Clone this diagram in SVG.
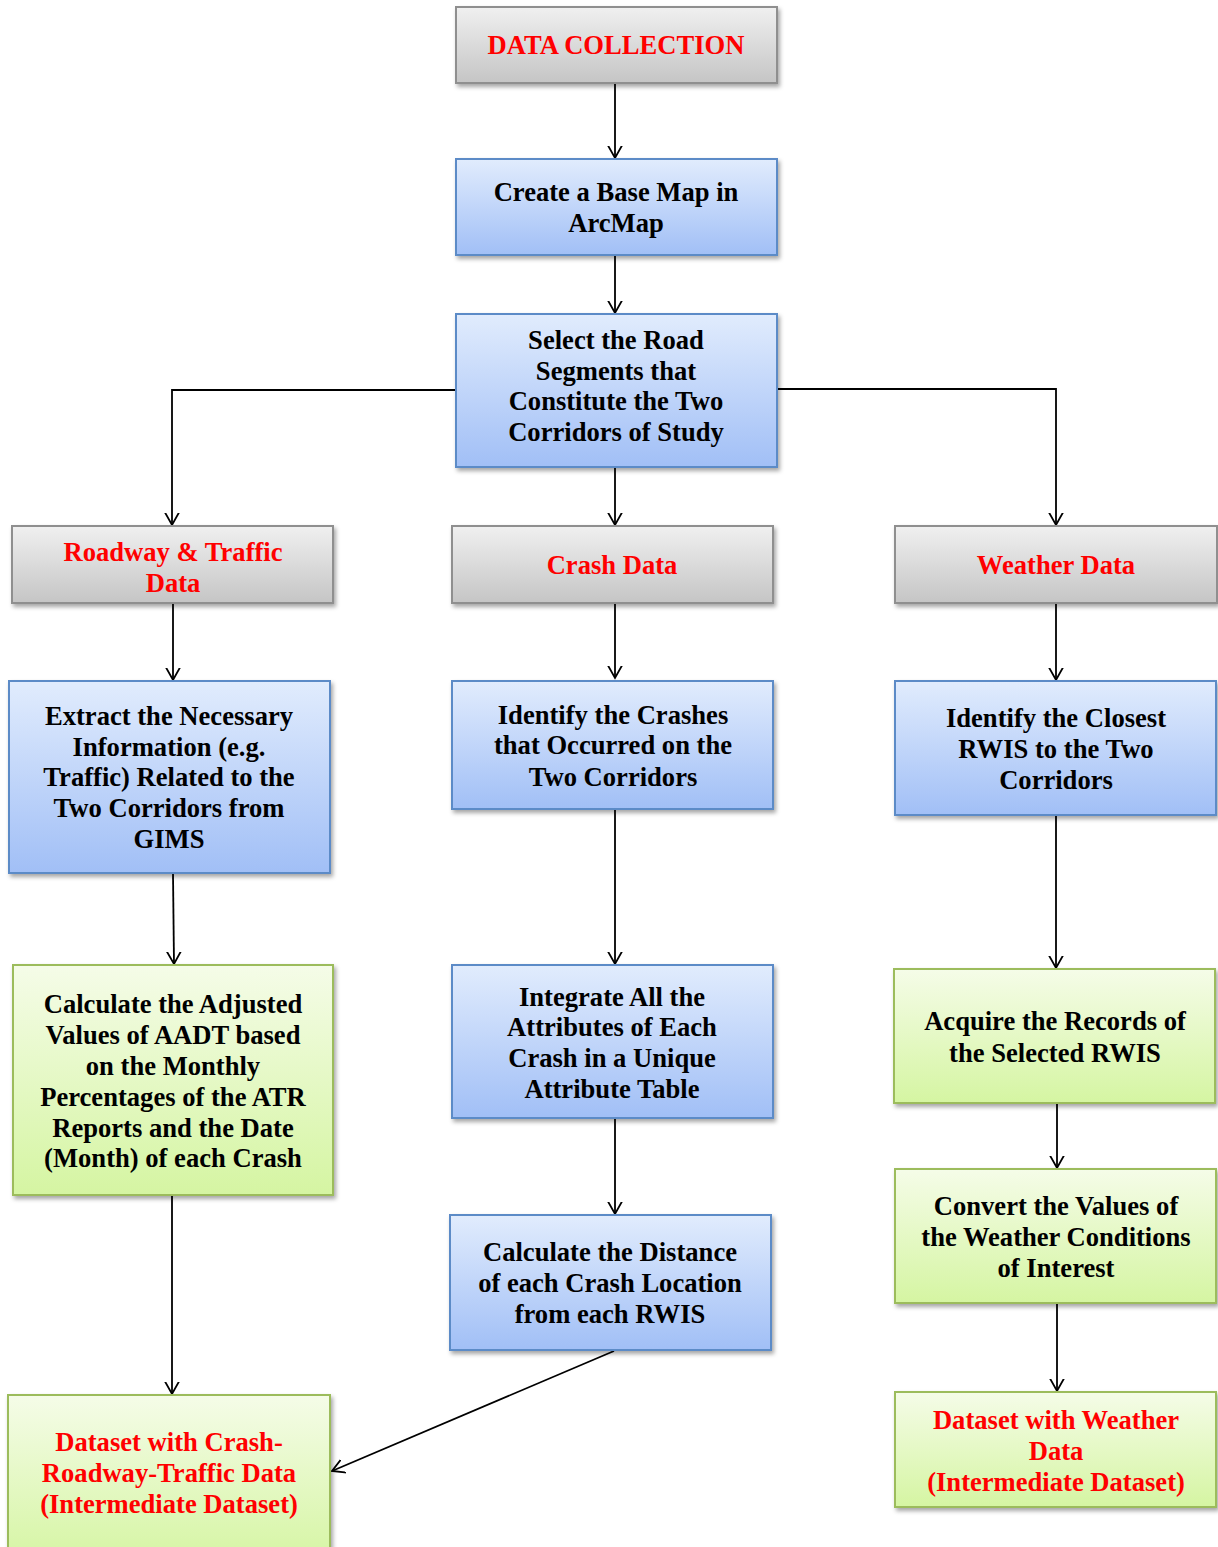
<svg xmlns="http://www.w3.org/2000/svg" width="1218" height="1547" viewBox="0 0 1218 1547">
<defs>
<linearGradient id="gGray" x1="0" y1="0" x2="0" y2="1"><stop offset="0" stop-color="#f0f0f0"/><stop offset="1" stop-color="#c5c5c5"/></linearGradient>
<linearGradient id="gBlue" x1="0" y1="0" x2="0" y2="1"><stop offset="0" stop-color="#e1ecfd"/><stop offset="1" stop-color="#a1bff6"/></linearGradient>
<linearGradient id="gGreen" x1="0" y1="0" x2="0" y2="1"><stop offset="0" stop-color="#f5fce8"/><stop offset="1" stop-color="#d5f5a2"/></linearGradient>
<filter id="sh" x="-5%" y="-5%" width="115%" height="120%"><feDropShadow dx="2" dy="3" stdDeviation="2" flood-color="#000" flood-opacity="0.35"/></filter>
<marker id="arr" markerUnits="userSpaceOnUse" markerWidth="24" markerHeight="24" viewBox="-12 -12 24 24" refX="0" refY="0" orient="auto"><path d="M-17,-9.5 L0,0 L-17,9.5" fill="none" stroke="#000" stroke-width="1.8"/></marker>
</defs>
<style>
.gray{fill:url(#gGray);stroke:#8f8f8f;stroke-width:2;filter:url(#sh)}
.blue{fill:url(#gBlue);stroke:#5b8bc7;stroke-width:2;filter:url(#sh)}
.green{fill:url(#gGreen);stroke:#9cbc5b;stroke-width:2;filter:url(#sh)}
text{font-family:"Liberation Serif","Times New Roman",serif;font-weight:bold;font-size:26.6px;text-anchor:middle;fill:#000}
.red{fill:#ff0000}
.c{fill:none;stroke:#000;stroke-width:1.8;marker-end:url(#arr)}
</style>
<rect width="1218" height="1547" fill="#fff"/>
<g id="connectors">
<path class="c" d="M615,84 V158"/>
<path class="c" d="M615,256 V313"/>
<path class="c" d="M456,390 H172 V525"/>
<path class="c" d="M778,389 H1056 V525"/>
<path class="c" d="M615,468 V525"/>
<path class="c" d="M173,604 V680"/>
<path class="c" d="M615,604 V678"/>
<path class="c" d="M1056,604 V680"/>
<path class="c" d="M173,874 L174,964"/>
<path class="c" d="M615,810 V964"/>
<path class="c" d="M1056,816 V968"/>
<path class="c" d="M615,1119 V1214"/>
<path class="c" d="M1057,1104 V1168"/>
<path class="c" d="M172,1196 V1394"/>
<path class="c" d="M1057,1304 V1391"/>
<path class="c" d="M614,1351 L332,1471"/>
</g>
<g id="n1"><rect class="gray" x="456" y="7" width="321" height="76"/><text class="red" x="616" y="54">DATA COLLECTION</text></g>
<g id="n2"><rect class="blue" x="456" y="159" width="321" height="96"/><text x="616" y="201">Create a Base Map in</text><text x="616" y="232">ArcMap</text></g>
<g id="n3"><rect class="blue" x="456" y="314" width="321" height="153"/><text x="616" y="349">Select the Road</text><text x="616" y="380">Segments that</text><text x="616" y="410">Constitute the Two</text><text x="616" y="441">Corridors of Study</text></g>
<g id="n4"><rect class="gray" x="12" y="526" width="321" height="77"/><text class="red" x="173" y="561">Roadway &amp; Traffic</text><text class="red" x="173" y="592">Data</text></g>
<g id="n5"><rect class="gray" x="452" y="526" width="321" height="77"/><text class="red" x="612" y="574">Crash Data</text></g>
<g id="n6"><rect class="gray" x="895" y="526" width="322" height="77"/><text class="red" x="1056" y="574">Weather Data</text></g>
<g id="n7"><rect class="blue" x="9" y="681" width="321" height="192"/><text x="169" y="725">Extract the Necessary</text><text x="169" y="756">Information (e.g.</text><text x="169" y="786">Traffic) Related to the</text><text x="169" y="817">Two Corridors from</text><text x="169" y="848">GIMS</text></g>
<g id="n8"><rect class="blue" x="452" y="681" width="321" height="128"/><text x="613" y="724">Identify the Crashes</text><text x="613" y="754">that Occurred on the</text><text x="613" y="786">Two Corridors</text></g>
<g id="n9"><rect class="blue" x="895" y="681" width="321" height="134"/><text x="1056" y="727">Identify the Closest</text><text x="1056" y="758">RWIS to the Two</text><text x="1056" y="789">Corridors</text></g>
<g id="n10"><rect class="green" x="13" y="965" width="320" height="230"/><text x="173" y="1013">Calculate the Adjusted</text><text x="173" y="1044">Values of AADT based</text><text x="173" y="1075">on the Monthly</text><text x="173" y="1106">Percentages of the ATR</text><text x="173" y="1137">Reports and the Date</text><text x="173" y="1167">(Month) of each Crash</text></g>
<g id="n11"><rect class="blue" x="452" y="965" width="321" height="153"/><text x="612" y="1006">Integrate All the</text><text x="612" y="1036">Attributes of Each</text><text x="612" y="1067">Crash in a Unique</text><text x="612" y="1098">Attribute Table</text></g>
<g id="n12"><rect class="green" x="894" y="969" width="321" height="134"/><text x="1055" y="1030">Acquire the Records of</text><text x="1055" y="1062">the Selected RWIS</text></g>
<g id="n13"><rect class="green" x="895" y="1169" width="321" height="134"/><text x="1056" y="1215">Convert the Values of</text><text x="1056" y="1246">the Weather Conditions</text><text x="1056" y="1277">of Interest</text></g>
<g id="n14"><rect class="blue" x="450" y="1215" width="321" height="135"/><text x="610" y="1261">Calculate the Distance</text><text x="610" y="1292">of each Crash Location</text><text x="610" y="1323">from each RWIS</text></g>
<g id="n15"><rect class="green" x="8" y="1395" width="322" height="170"/><text class="red" x="169" y="1451">Dataset with Crash-</text><text class="red" x="169" y="1482">Roadway-Traffic Data</text><text class="red" x="169" y="1513">(Intermediate Dataset)</text></g>
<g id="n16"><rect class="green" x="895" y="1392" width="321" height="115"/><text class="red" x="1056" y="1429">Dataset with Weather</text><text class="red" x="1056" y="1460">Data</text><text class="red" x="1056" y="1491">(Intermediate Dataset)</text></g>
</svg>
